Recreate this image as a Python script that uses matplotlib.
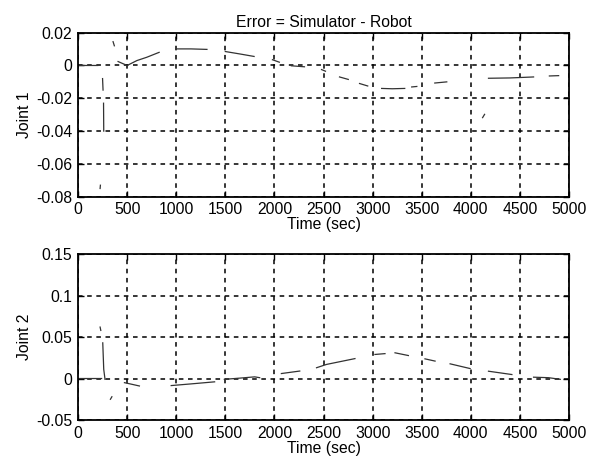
import numpy as np
import matplotlib.pyplot as plt

plt.rcParams['font.family'] = ['Liberation Sans', 'DejaVu Sans']

# Joint 1 error (broken trace, NaN = gap in the scanned line)
t1 = [0, 200, np.nan, 225, 228, np.nan, 250, 255, np.nan, 260, 262, np.nan,
      357, 370, np.nan, 408, 500, 600, 700, 826, np.nan,
      1000, 1150, 1313, np.nan, 1500, 1650, 1793, np.nan,
      1980, 2050, np.nan, 2173, 2306, np.nan, 2480, 2520, np.nan,
      2663, 2752, np.nan, 2867, 2950, np.nan, 3092, 3200, 3327, np.nan,
      3398, 3450, np.nan, 3633, 3755, np.nan, 4120, 4140, np.nan,
      4180, 4400, 4639, np.nan, 4800, 4894]
j1 = [0.0, 0.0, np.nan, -0.075, -0.073, np.nan, -0.008, -0.015, np.nan, -0.023, -0.040, np.nan,
      0.0145, 0.012, np.nan, 0.0024, 0.0, 0.003, 0.005, 0.008, np.nan,
      0.0101, 0.0101, 0.0098, np.nan, 0.0085, 0.007, 0.0055, np.nan,
      0.0035, 0.002, np.nan, -0.0002, -0.0008, np.nan, -0.0025, -0.0035, np.nan,
      -0.007, -0.0085, np.nan, -0.011, -0.0125, np.nan, -0.014, -0.0142, -0.014, np.nan,
      -0.0131, -0.0128, np.nan, -0.0107, -0.010, np.nan, -0.0318, -0.0298, np.nan,
      -0.0078, -0.0076, -0.007, np.nan, -0.0064, -0.0062]

# Joint 2 error
t2 = [0, 240, np.nan, 225, 232, np.nan, 252, 262, 275, np.nan, 330, 345, np.nan,
      473, 550, 625, np.nan, 949, 1150, 1391, np.nan, 1490, 1650, 1799, 1850, np.nan,
      2071, 2258, np.nan, 2429, 2531, 2820, np.nan, 3024, 3126, np.nan, 3228, 3364, np.nan,
      3533, 3636, np.nan, 3789, 3993, np.nan, 4180, 4418, np.nan, 4639, 4792, 4911]
j2 = [0.0, 0.0, np.nan, 0.062, 0.058, np.nan, 0.043, 0.011, -0.001, np.nan, -0.025, -0.022, np.nan,
      -0.005, -0.007, -0.009, np.nan, -0.0085, -0.0065, -0.004, np.nan, -0.001, 0.0005, 0.002, 0.001, np.nan,
      0.006, 0.009, np.nan, 0.013, 0.017, 0.024, np.nan, 0.029, 0.030, np.nan, 0.031, 0.0277, np.nan,
      0.0237, 0.021, np.nan, 0.0177, 0.012, np.nan, 0.0088, 0.0048, np.nan, 0.0016, 0.001, -0.001]

xticks = np.arange(0, 5001, 500)
yticks1 = [-0.08, -0.06, -0.04, -0.02, 0, 0.02]
ylabels1 = ['-0.08', '-0.06', '-0.04', '-0.02', '0', '0.02']
yticks2 = [-0.05, 0, 0.05, 0.1, 0.15]
ylabels2 = ['-0.05', '0', '0.05', '0.1', '0.15']

fig = plt.figure(figsize=(6.01, 4.70), dpi=100)
ax1 = fig.add_axes([0.1298, 0.5815, 0.817, 0.349])
ax2 = fig.add_axes([0.1298, 0.1064, 0.817, 0.353])

fs = 11.3
for ax, t, y, yt, yl, lab, lim in [
        (ax1, t1, j1, yticks1, ylabels1, 'Joint 1', (-0.08, 0.02)),
        (ax2, t2, j2, yticks2, ylabels2, 'Joint 2', (-0.05, 0.15))]:
    ax.plot(t, y, color='#333333', linewidth=0.9)
    ax.set_xlim(0, 5000)
    ax.set_ylim(*lim)
    ax.set_xticks(xticks)
    ax.set_xticklabels([str(v) for v in xticks], fontsize=fs)
    ax.set_yticks(yt)
    ax.set_yticklabels(yl, fontsize=fs)
    ax.set_xlabel('Time (sec)', fontsize=fs, labelpad=0)
    ax.set_ylabel(lab, fontsize=fs, labelpad=3)
    ax.grid(True, color='black', linestyle=(0, (3, 3)), linewidth=1.1)
    ax.tick_params(direction='in', length=4, width=1, pad=4, top=True, right=True)
    for s in ax.spines.values():
        s.set_linewidth(1.3)

ax1.set_title('Error = Simulator - Robot', fontsize=fs, pad=4)

fig.savefig('out.png', dpi=100)
